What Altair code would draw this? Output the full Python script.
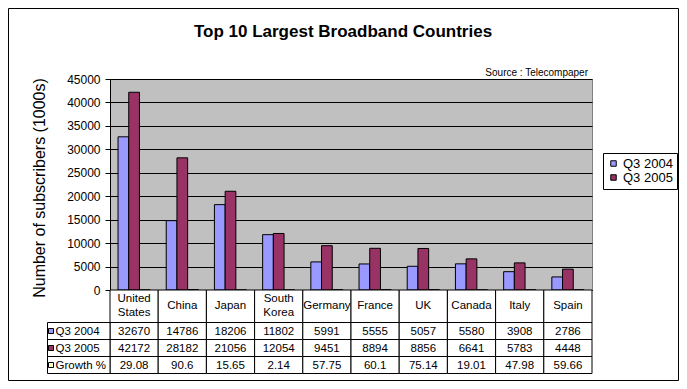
import altair as alt
import pandas as pd

# ---- data ----
countries = ["United States", "China", "Japan", "South Korea", "Germany",
             "France", "UK", "Canada", "Italy", "Spain"]
q3_2004 = [32670, 14786, 18206, 11802, 5991, 5555, 5057, 5580, 3908, 2786]
q3_2005 = [42172, 28182, 21056, 12054, 9451, 8894, 8856, 6641, 5783, 4448]
growth = [29.08, 90.6, 15.65, 2.14, 57.75, 60.1, 75.14, 19.01, 47.98, 59.66]
series_names = ["Q3 2004", "Q3 2005", "Growth %"]
series_colors = ["#9999FF", "#993366", "#FFFFCC"]
y_ticks = [0, 5000, 10000, 15000, 20000, 25000, 30000, 35000, 40000, 45000]

title_text = "Top 10 Largest Broadband Countries"
source_text = "Source : Telecompaper"
y_title = "Number of subscribers (1000s)"

FONT = "Liberation Sans"
W, H = 482, 211
PAD = {"left": 102, "top": 71, "right": 87, "bottom": 91}

bars_df = pd.DataFrame({
    "country": countries * 3,
    "series": [s for s in series_names for _ in countries],
    "value": q3_2004 + q3_2005 + growth,
})

header_df = pd.DataFrame({"country": countries,
                          "text": [c.replace(" ", "\n") for c in countries]})

row_values = [q3_2004, q3_2005, growth]
table_df = pd.DataFrame({
    "country": countries * 3,
    "row": [s for s in series_names for _ in countries],
    "text": [str(v) for vals in row_values for v in vals],
})
label_df = pd.DataFrame({"row": series_names, "color": series_colors})

xscale = alt.Scale(domain=countries, paddingInner=0, paddingOuter=0)
x_enc = alt.X("country:N", scale=xscale, sort=countries,
              axis=alt.Axis(labels=False, ticks=False, title=None,
                            domainColor="black", domainWidth=1))
x_center = alt.X("country:N", scale=xscale, sort=countries, bandPosition=0.5,
                 axis=alt.Axis(labels=False, ticks=False, title=None,
                               domainColor="black"))

color_scale = alt.Scale(domain=series_names, range=series_colors)

bars = alt.Chart(bars_df).mark_bar(stroke="black", strokeWidth=1).encode(
    x=x_enc,
    xOffset=alt.XOffset("series:N", sort=series_names,
                        scale=alt.Scale(domain=series_names, paddingInner=0,
                                        paddingOuter=0.75)),
    y=alt.Y("value:Q", scale=alt.Scale(domain=[0, 45000], nice=False),
            axis=alt.Axis(values=y_ticks, grid=True, gridColor="black",
                          gridOpacity=1, domainColor="black", tickColor="black",
                          tickSize=5, labelFontSize=12, labelColor="black",
                          labelFont=FONT, labelPadding=5, title=None,
                          format="d")),
    color=alt.Color("series:N", scale=color_scale, sort=series_names,
                    legend=alt.Legend(title=None, orient="none", legendX=493,
                                      legendY=74,
                                      values=["Q3 2004", "Q3 2005"],
                                      symbolType="square", symbolSize=30,
                                      symbolStrokeColor="black",
                                      symbolStrokeWidth=1, symbolOpacity=1,
                                      labelFontSize=13, labelFont=FONT,
                                      labelColor="black", labelOffset=3,
                                      strokeColor="black", fillColor="white",
                                      padding=4, rowPadding=0)),
)

layers = [bars]

# header row of the data table
layers.append(alt.Chart(header_df).mark_rect(fill="white", stroke="black",
                                             strokeWidth=1).encode(
    x=x_enc, y=alt.value(211), y2=alt.value(243.5)))
hdr = alt.Chart(header_df)
layers.append(hdr.transform_filter("indexof(datum.text, '\\n') < 0").mark_text(
    font=FONT, fontSize=11.5, color="black",
    baseline="middle", align="center").encode(
    x=x_center, y=alt.value(227), text="text:N"))
layers.append(hdr.transform_filter("indexof(datum.text, '\\n') >= 0").mark_text(
    font=FONT, fontSize=11.5, color="black", lineBreak="\n", lineHeight=14,
    baseline="middle", align="center").encode(
    x=x_center, y=alt.value(220), text="text:N"))

row_bounds = [(243.5, 260.5), (260.5, 277.5), (277.5, 294.5)]
for name, (top, bot) in zip(series_names, row_bounds):
    mid = (top + bot) / 2
    cells = alt.Chart(table_df).transform_filter(alt.datum.row == name)
    layers.append(cells.mark_rect(fill="white", stroke="black",
                                  strokeWidth=1).encode(
        x=x_enc, y=alt.value(top), y2=alt.value(bot)))
    layers.append(cells.mark_text(font=FONT, fontSize=11.5, color="black",
                                  baseline="middle", align="center").encode(
        x=x_center, y=alt.value(mid + 0.5), text="text:N"))
    lab = alt.Chart(label_df).transform_filter(alt.datum.row == name)
    layers.append(lab.mark_rect(fill="white", stroke="black",
                                strokeWidth=1).encode(
        x=alt.value(-62.5), x2=alt.value(0), y=alt.value(top),
        y2=alt.value(bot)))
    layers.append(lab.mark_rect(stroke="black", strokeWidth=1).encode(
        x=alt.value(-61.5), x2=alt.value(-56.5), y=alt.value(mid - 2.5),
        y2=alt.value(mid + 2.5), fill=alt.Fill("color:N", scale=None)))
    layers.append(lab.mark_text(font=FONT, fontSize=11.5, color="black",
                                baseline="middle", align="left").encode(
        x=alt.value(-54.5), y=alt.value(mid + 0.5), text="row:N"))

# titles and outer frame
text_df = pd.DataFrame({"t": [title_text]})
layers.append(alt.Chart(text_df).mark_text(
    font=FONT, fontSize=17, fontWeight="bold", color="black",
    baseline="middle", align="center").encode(
    x=alt.value(233), y=alt.value(-47), text="t:N"))
src_df = pd.DataFrame({"t": [source_text]})
layers.append(alt.Chart(src_df).mark_text(
    font=FONT, fontSize=10, color="black", baseline="middle",
    align="right").encode(x=alt.value(478), y=alt.value(-6), text="t:N"))
yt_df = pd.DataFrame({"t": [y_title]})
layers.append(alt.Chart(yt_df).mark_text(
    font=FONT, fontSize=16, color="black", baseline="middle", align="center",
    angle=270).encode(x=alt.value(-70), y=alt.value(109), text="t:N"))
frame_df = pd.DataFrame({"k": [1]})
layers.append(alt.Chart(frame_df).mark_rect(
    fill="transparent", stroke="black", strokeWidth=1).encode(
    x=alt.value(-101.5), x2=alt.value(W + PAD["right"] - 0.5),
    y=alt.value(-70.5), y2=alt.value(H + PAD["bottom"] - 0.5)))

chart = alt.layer(*layers).properties(
    width=W, height=H,
    autosize=alt.AutoSizeParams(type="none"),
    padding=PAD,
    background="white",
).configure(font=FONT).configure_view(
    fill="#C0C0C0", stroke="#808080", strokeWidth=1,
)

chart.save("out.html", embed_options={"renderer": "svg", "actions": False})
